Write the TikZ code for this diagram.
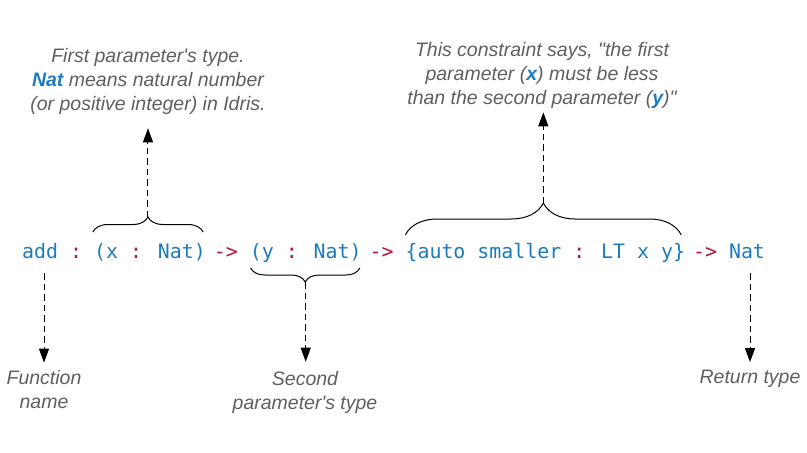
\documentclass[tikz,border=0pt]{standalone}
\usepackage{fontspec}
\setmainfont{Liberation Sans}
\newfontfamily\codefont{DejaVu Sans Mono}
\usetikzlibrary{decorations.pathreplacing,arrows.meta,calc}
\definecolor{codeblue}{HTML}{1B7BBD}
\definecolor{opred}{HTML}{B3123B}
\definecolor{notegray}{HTML}{5F5F5F}
% width of one character of the code font
\newcommand{\cw}{11.98}
\begin{document}
\begin{tikzpicture}[x=1pt,y=-1pt,
  code/.style={inner sep=0pt, anchor=base west,
    font=\codefont\fontsize{19.9}{24}\selectfont, text=codeblue},
  op/.style={code, text=opred},
  note/.style={inner sep=0pt, align=center, text=notegray,
    font=\itshape\fontsize{19.5}{24}\selectfont},
  callout/.style={line width=1pt, dash pattern=on 6.5pt off 4pt,
    -{Triangle[length=14pt,width=10pt]}},
  bracket/.style={decorate, line width=1pt,
    decoration={brace, amplitude=#1}}]
\useasboundingbox (0,0) rectangle (807,453);

% the type signature, one node per token (monospaced columns)
\node[code] (add) at (22+0*\cw,258)  {add};
\node[op]   (c1)  at (22+4*\cw,258)  {:};
\node[code] (p1)  at (22+6*\cw,258)  {(x \textcolor{opred}{:} Nat)};
\node[op]   (a1)  at (22+16*\cw,258) {->};
\node[code] (p2)  at (22+19*\cw,258) {(y \textcolor{opred}{:} Nat)};
\node[op]   (a2)  at (22+29*\cw,258) {->};
\node[code] (con) at (22+32*\cw,258) {\{auto smaller \textcolor{opred}{:} LT x y\}};
\node[op]   (a3)  at (22+56*\cw,258) {->};
\node[code] (ret) at (22+59*\cw,258) {Nat};

% explanatory notes
\node[note] (n1) at (148,81)
  {First parameter\textquotesingle s type.\\
   \textcolor{codeblue}{\bfseries Nat} means natural number\\
   (or positive integer) in Idris.};
\node[note] (n2) at (542,75)
  {This constraint says, \textquotedbl the first\\
   parameter (\textcolor{codeblue}{\bfseries x}) must be less\\
   than the second parameter (\textcolor{codeblue}{\bfseries y})\textquotedbl};
\node[note] (fn) at (44,390) {Function\\name};
\node[note] (sp) at (305,392) {Second\\parameter\textquotesingle s type};
\node[note] (rt) at (750,379) {Return type};

% levels of the brace ends
\coordinate (lvA) at (0,232);
\coordinate (lvB) at (0,235);
\coordinate (lvC) at (0,268);

% braces grouping parts of the signature
\draw[bracket=15pt] ([xshift=-1pt]p1.west |- lvA) -- ([xshift=-3pt]p1.east |- lvA);
\draw[bracket=32pt] (con.west |- lvB) -- ([xshift=-4pt]con.east |- lvB);
\draw[bracket=14pt] ([xshift=-2pt]p2.east |- lvC) -- ([xshift=1pt]p2.west |- lvC);

\coordinate (b1) at ($(p1.west |- lvA)!0.5!([xshift=-4pt]p1.east |- lvA)+(0,-15)$);
\coordinate (b2) at ($(con.west |- lvB)!0.5!([xshift=-4pt]con.east |- lvB)+(0,-32)$);
\coordinate (b3) at ($([xshift=-1pt]p2.east |- lvC)!0.5!([xshift=1pt]p2.west |- lvC)+(0,14)$);

% dashed callouts
\draw[callout, shorten >=14pt] (b1) -- (b1 |- n1.south);
\draw[callout, shorten >=4pt] (b2) -- (b2 |- n2.south);
\draw[callout, shorten >=9pt] (b3) -- (b3 |- sp.north);
\draw[callout, shorten <=15pt, shorten >=8pt] (fn.north |- add.south) -- (fn.north);
\draw[callout, shorten <=15pt, shorten >=8pt] (rt.north |- ret.south) -- (rt.north);
\end{tikzpicture}
\end{document}
